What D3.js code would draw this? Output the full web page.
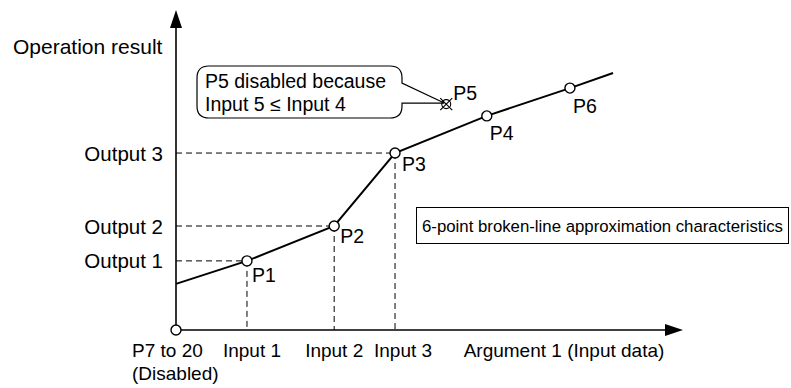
<!DOCTYPE html>
<html><head><meta charset="utf-8">
<script src="https://cdn.jsdelivr.net/npm/d3@7"></script>
<style>
html,body{margin:0;padding:0;background:#fff;}
svg text{font-family:"Liberation Sans",Arial,Helvetica,sans-serif;fill:#000;}
</style></head>
<body>
<svg id="c" width="791" height="388"></svg>
<script>
// ---- data (abstract units) ----
const pointNames = ["P1","P2","P3","P4","P6"];
const pointX = [14.0, 31.2, 43.2, 61.3, 77.7];
const pointY = [21.6, 32.5, 55.3, 66.9, 75.6];
const lineStart = [0, 14.4];
const lineEnd = [86.2, 80.3];
const disabledName = "P5";
const disabledPoint = [53.3, 70.6];
const inputLabels = ["Input 1","Input 2","Input 3"];
const outputLabels = ["Output 1","Output 2","Output 3"];
const yTitle = "Operation result";
const xTitle = "Argument 1 (Input data)";
const originLabel = ["P7 to 20","(Disabled)"];
const calloutText = ["P5 disabled because","Input 5 \u2264 Input 4"];
const legendText = "6-point broken-line approximation characteristics";

const svg = d3.select("#c");
const x = d3.scaleLinear().domain([0,100]).range([176,683]);
const y = d3.scaleLinear().domain([0,100]).range([330,10]);
const X0 = x(0), Y0 = y(0);

// dashed guides for P1..P3
const dash = svg.append("g").attr("stroke","#000").attr("stroke-width",1).attr("stroke-dasharray","6,4").attr("fill","none");
for (let i=0;i<3;i++){
  dash.append("line").attr("x1",X0).attr("x2",x(pointX[i])).attr("y1",y(pointY[i])).attr("y2",y(pointY[i]));
  dash.append("line").attr("x1",x(pointX[i])).attr("x2",x(pointX[i])).attr("y1",y(pointY[i])).attr("y2",Y0);
}

// axes
const ax = svg.append("g");
ax.append("line").attr("x1",X0).attr("y1",Y0).attr("x2",X0).attr("y2",y(100)+16).attr("stroke","#000").attr("stroke-width",1.6);
ax.append("path").attr("d",`M${X0},${y(100)} L${X0-6},${y(100)+18} L${X0+6},${y(100)+18} Z`).attr("fill","#000");
ax.append("line").attr("x1",X0).attr("y1",Y0).attr("x2",x(100)-16).attr("y2",Y0).attr("stroke","#000").attr("stroke-width",1.6);
ax.append("path").attr("d",`M${x(100)},${Y0} L${x(100)-18},${Y0-6} L${x(100)-18},${Y0+6} Z`).attr("fill","#000");

// broken line
const pts = [lineStart].concat(pointX.map((v,i)=>[v,pointY[i]])).concat([lineEnd]);
svg.append("path").datum(pts)
  .attr("d", d3.line().x(d=>x(d[0])).y(d=>y(d[1])))
  .attr("fill","none").attr("stroke","#000").attr("stroke-width",2);

// point circles
svg.append("g").selectAll("circle").data(pointX.map((v,i)=>[v,pointY[i]]).concat([[0,0]]))
  .join("circle").attr("cx",d=>x(d[0])).attr("cy",d=>y(d[1])).attr("r",5)
  .attr("fill","#fff").attr("stroke","#000").attr("stroke-width",1.4);

// point labels
const pdx = [5,6,7,3,3], pdy = [21,17,18,24,25];
svg.append("g").selectAll("text").data(pointNames).join("text")
  .attr("x",(d,i)=>x(pointX[i])+pdx[i]).attr("y",(d,i)=>y(pointY[i])+pdy[i])
  .attr("font-size",19.5).text(d=>d);

// disabled P5 marker
const px5 = x(disabledPoint[0]), py5 = y(disabledPoint[1]);
const m = svg.append("g").attr("stroke","#000").attr("stroke-width",1.1).attr("fill","none");
m.append("circle").attr("cx",px5).attr("cy",py5).attr("r",4.5);
m.append("line").attr("x1",px5-6).attr("y1",py5-6).attr("x2",px5+6).attr("y2",py5+6);
m.append("line").attr("x1",px5-6).attr("y1",py5+6).attr("x2",px5+6).attr("y2",py5-6);
svg.append("text").attr("x",px5+7).attr("y",py5-4).attr("font-size",19.5).text(disabledName);

// callout
const bx0=197,by0=66,bx1=402,by1=118,r=12;
svg.append("path").attr("d",
  `M${bx0+r},${by0} L${bx1-r},${by0} Q${bx1},${by0} ${bx1},${by0+r} L${bx1},${by0+17} L${px5-2},${py5-1} L${bx1},${by0+37} L${bx1},${by1-r} Q${bx1},${by1} ${bx1-r},${by1} L${bx0+r},${by1} Q${bx0},${by1} ${bx0},${by1-r} L${bx0},${by0+r} Q${bx0},${by0} ${bx0+r},${by0} Z`)
  .attr("fill","#fff").attr("stroke","#000").attr("stroke-width",1.2);
svg.append("g").selectAll("text").data(calloutText).join("text")
  .attr("x",205).attr("y",(d,i)=>88+i*23).attr("font-size",19.5).text(d=>d);

// legend box
svg.append("rect").attr("x",416.5).attr("y",207.5).attr("width",372).attr("height",36)
  .attr("fill","#fff").attr("stroke","#000").attr("stroke-width",1);
svg.append("text").attr("x",422).attr("y",232).attr("font-size",16.8).text(legendText);

// y labels
svg.append("g").selectAll("text").data(outputLabels).join("text")
  .attr("x",163).attr("y",(d,i)=>y(pointY[i])+7.5).attr("text-anchor","end")
  .attr("font-size",20.5).text(d=>d);
svg.append("text").attr("x",13).attr("y",54).attr("font-size",21).text(yTitle);

// x labels
const ldx = [5,0,8];
svg.append("g").selectAll("text").data(inputLabels).join("text")
  .attr("x",(d,i)=>x(pointX[i])+ldx[i]).attr("y",357).attr("text-anchor","middle")
  .attr("font-size",19).text(d=>d);
svg.append("text").attr("x",564).attr("y",357).attr("text-anchor","middle").attr("font-size",19).text(xTitle);
svg.append("g").selectAll("text").data(originLabel).join("text")
  .attr("x",132).attr("y",(d,i)=>357+i*23).attr("font-size",19).text(d=>d);
</script>
</body></html>
